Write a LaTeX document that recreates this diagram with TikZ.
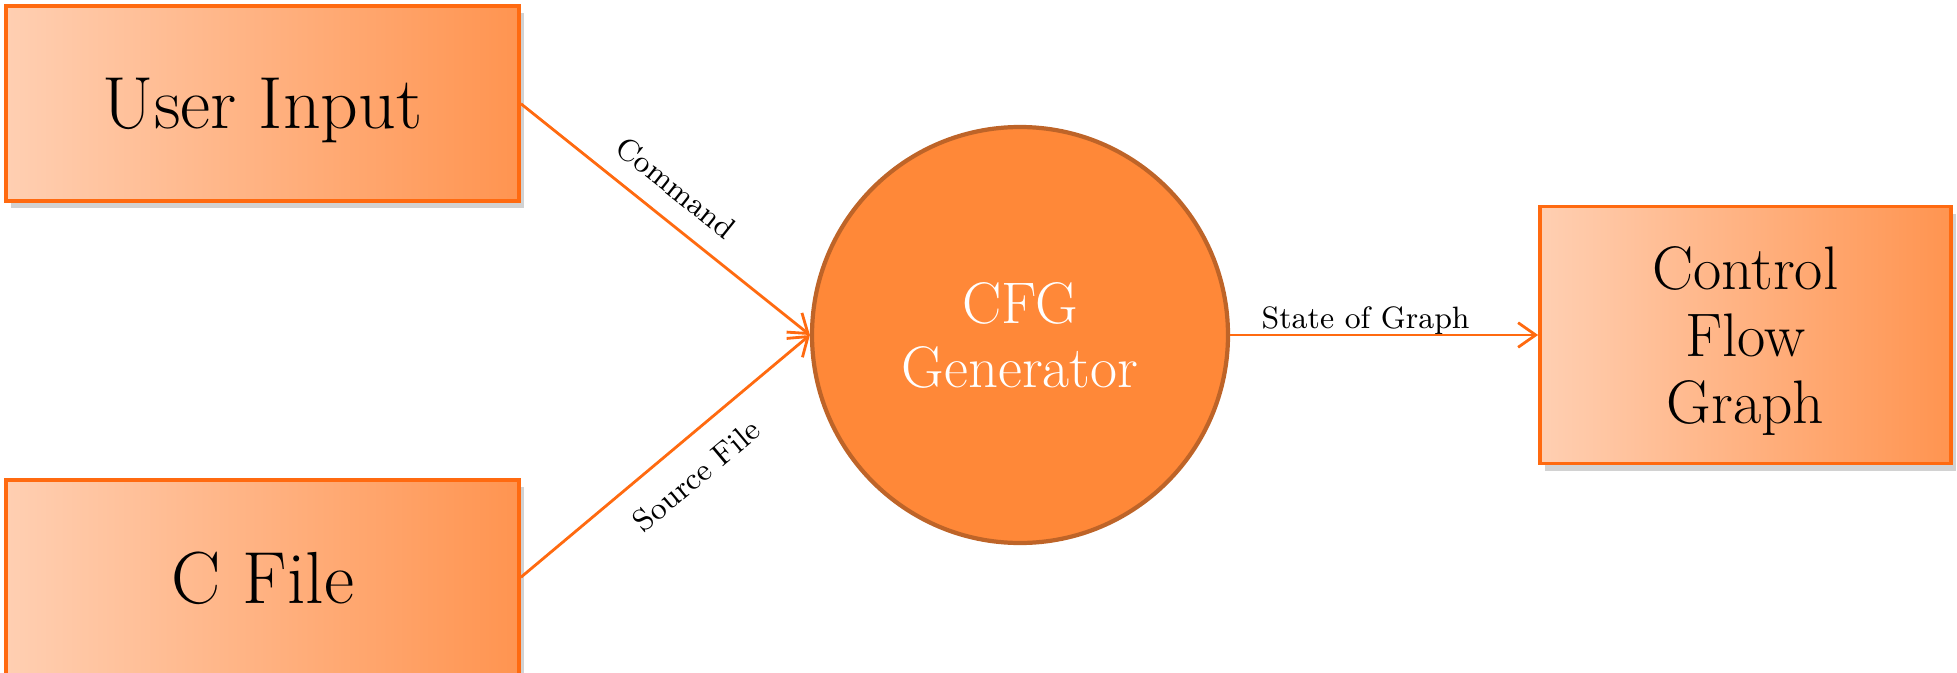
\documentclass[tikz,border=0pt]{standalone}
\usepackage{xcolor}
\usepackage{tikz}
\usetikzlibrary{arrows.meta,shapes,positioning,shadows}

\definecolor{boxlight}{RGB}{255,207,178}
\definecolor{boxdark}{RGB}{255,148,80}
\definecolor{edgeorange}{RGB}{255,106,16}
\definecolor{genfill}{RGB}{255,136,56}
\definecolor{genborder}{RGB}{190,100,40}

\tikzset{
  entity/.style={draw=edgeorange, line width=1pt, left color=boxlight, right color=boxdark,
    drop shadow={shadow xshift=1.5pt, shadow yshift=-2pt, opacity=0.25, fill=black!70},
    font=\fontsize{21}{24}\selectfont, text depth=0pt, minimum width=5.13cm, minimum height=1.95cm},
  flow/.style={->, draw=edgeorange, line width=0.8pt},
  lbl/.style={font=\fontsize{8.8}{10}\selectfont, sloped}
}

\begin{document}
\begin{tikzpicture}[>={Straight Barb[length=5pt,width=7pt]}]
  \useasboundingbox (0,0) rectangle (19.57,6.72);
  \node[circle, draw=genborder, line width=1.2pt, fill=genfill, minimum size=4.16cm,
        text=white, align=center, font=\fontsize{16.7}{18.2}\selectfont] (gen) at (10.20,3.37) {CFG\\Generator};
  \node[entity, above left=1.32cm and 2.89cm of gen.west] (user) {User Input};
  \node[entity, below left=1.43cm and 2.89cm of gen.west] (cfile) {C File};
  \node[entity, minimum width=4.11cm, minimum height=2.57cm, right=3.08cm of gen,
        align=center, font=\fontsize{17.5}{19}\selectfont] (graph) {Control\\Flow\\Graph};

  \draw[flow] (user.east) -- node[lbl, above=2pt, pos=0.47] {Command} (gen.west);
  \draw[flow] (cfile.east) -- node[lbl, below=3pt, pos=0.53] {Source File} (gen.west);
  \draw[flow] (gen.east) -- node[lbl, above, yshift=-3.5pt, pos=0.44] {State of Graph} (graph.west);
\end{tikzpicture}
\end{document}
